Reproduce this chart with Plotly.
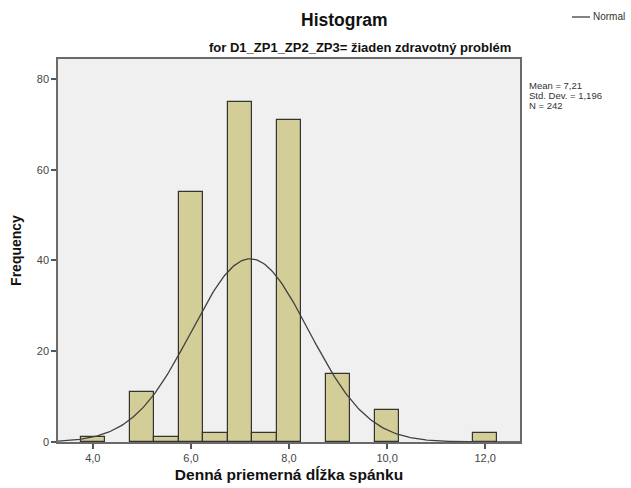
import numpy as np
import plotly.graph_objects as go

# Data
bin_centers = [4.0, 5.0, 5.5, 6.0, 6.5, 7.0, 7.5, 8.0, 9.0, 10.0, 12.0]
counts = [1, 11, 1, 55, 2, 75, 2, 71, 15, 7, 2]
bin_width = 0.5
mean_val = 7.21
std_val = 1.196
n_val = 242
x_tick_vals = [4, 6, 8, 10, 12]
x_tick_text = ["4,0", "6,0", "8,0", "10,0", "12,0"]
y_tick_vals = [0, 20, 40, 60, 80]
x_range = [3.29, 12.71]
y_range = [0, 84.4]
stats_lines = [
    f"Mean = {str(mean_val).replace('.', ',')}",
    f"Std. Dev. = {str(std_val).replace('.', ',')}",
    f"N = {n_val}",
]

FONT = "Arial, Liberation Sans, sans-serif"

# Normal curve scaled to histogram
xs = np.linspace(x_range[0], x_range[1], 300)
ys = n_val * bin_width / (std_val * np.sqrt(2 * np.pi)) * np.exp(-0.5 * ((xs - mean_val) / std_val) ** 2)

fig = go.Figure()
fig.add_trace(go.Bar(
    x=bin_centers, y=counts, width=bin_width,
    marker=dict(color="#D3CE97", line=dict(color="#333333", width=1.2)),
    showlegend=False, hoverinfo="x+y",
))
fig.add_trace(go.Scatter(
    x=xs, y=ys, mode="lines", name="Normal",
    line=dict(color="#404040", width=1.3),
    showlegend=False,
))

L, R, T, B = 58, 111, 59, 46
W, H = 631, 488
pw, ph = W - L - R, H - T - B

def px(xp):
    return (xp - L) / pw

def py(yp):
    return (H - B - yp) / ph

annotations = [
    dict(text="<b>Histogram</b>", x=px(344), y=py(20), xref="paper", yref="paper",
         xanchor="center", yanchor="middle", showarrow=False,
         font=dict(size=17.5, color="#111111", family=FONT)),
    dict(text="<b>for D1_ZP1_ZP2_ZP3= žiaden zdravotný problém</b>", x=px(360), y=py(48),
         xref="paper", yref="paper", xanchor="center", yanchor="middle", showarrow=False,
         font=dict(size=13, color="#111111", family=FONT)),
    dict(text="Normal", x=px(591), y=py(17), xref="paper", yref="paper",
         xanchor="left", yanchor="middle", showarrow=False,
         font=dict(size=10, color="#333333", family=FONT)),
]
for i, s in enumerate(stats_lines):
    annotations.append(dict(text=s, x=px(527), y=py(85 + 10 * i), xref="paper", yref="paper",
                            xanchor="left", yanchor="middle", align="left", showarrow=False,
                            font=dict(size=9.5, color="#333333", family=FONT)))

fig.update_layout(
    width=W, height=H,
    margin=dict(l=L, r=R, t=T, b=B, pad=0, autoexpand=False),
    paper_bgcolor="white",
    plot_bgcolor="#F0F0F0",
    font=dict(family=FONT, color="#333333"),
    bargap=0,
    showlegend=False,
    xaxis=dict(
        range=x_range, tickvals=x_tick_vals, ticktext=x_tick_text,
        ticks="outside", ticklen=5, tickcolor="#555555", tickwidth=1.5,
        tickfont=dict(size=11, color="#444444", family=FONT),
        showgrid=False, zeroline=False,
        showline=True, mirror=True, linecolor="#6a6a6a", linewidth=1.5,
        title=dict(text="<b>Denná priemerná dĺžka spánku</b>",
                   font=dict(size=15.5, color="#111111", family=FONT), standoff=6),
    ),
    yaxis=dict(
        range=y_range, tickvals=y_tick_vals,
        ticks="outside", ticklen=5, tickcolor="#555555", tickwidth=1.5,
        tickfont=dict(size=11, color="#444444", family=FONT),
        showgrid=False, zeroline=False,
        showline=True, mirror=True, linecolor="#6a6a6a", linewidth=1.5,
        title=dict(text="<b>Frequency</b>",
                   font=dict(size=14, color="#111111", family=FONT), standoff=12),
    ),
    shapes=[
        dict(type="line", xref="paper", yref="paper",
             x0=px(572), x1=px(590), y0=py(17), y1=py(17),
             line=dict(color="#404040", width=1.3)),
    ],
    annotations=annotations,
)

fig.write_html("out.html")
